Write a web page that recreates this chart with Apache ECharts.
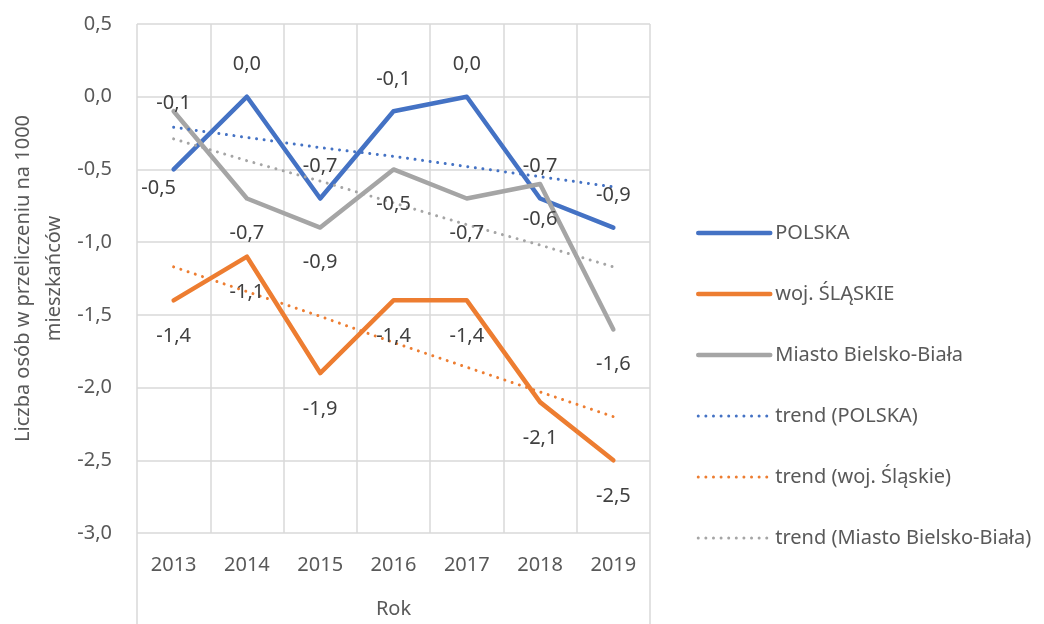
<!DOCTYPE html>
<html>
<head>
<meta charset="utf-8">
<title>Liczba osób w przeliczeniu na 1000 mieszkańców</title>
<style>
html, body { margin: 0; padding: 0; background: #fff; }
#chart { width: 1044px; height: 624px; }
</style>
<script src="https://cdn.jsdelivr.net/npm/echarts@6/dist/echarts.min.js"></script>
</head>
<body>
<div id="chart"></div>
<script>
var lata = ['2013', '2014', '2015', '2016', '2017', '2018', '2019'];
var polska = [-0.5, 0.0, -0.7, -0.1, 0.0, -0.7, -0.9];
var slaskie = [-1.4, -1.1, -1.9, -1.4, -1.4, -2.1, -2.5];
var bielsko = [-0.1, -0.7, -0.9, -0.5, -0.7, -0.6, -1.6];
// linie trendu
var trendPolska = [-0.21, -0.28, -0.35, -0.41, -0.48, -0.55, -0.62];
var trendSlaskie = [-1.17, -1.34, -1.51, -1.69, -1.86, -2.03, -2.20];
var trendBielsko = [-0.29, -0.44, -0.58, -0.73, -0.88, -1.02, -1.17];
// os Y
var yMin = -3.0;
var yMax = 0.5;
var yKrok = 0.5;

var font = 'Noto Sans';
var liniaCiagla = { width: 4.5, type: 'solid', cap: 'round' };
var liniaKropki = { width: 3, type: [0.01, 7.6], cap: 'round' };

function fmt(v) {
	return Number(v).toFixed(1).replace('.', ',');
}

// punkty z etykieta w innym miejscu niz reszta
function punkty(arr, inne) {
	return arr.map(function(v, i) {
		if (inne[i]) {
			return { value: v, label: inne[i] };
		}
		return v;
	});
}

function seria(nazwa, dane, kolor, pozycja, odstep) {
	return {
		name: nazwa,
		type: 'line',
		data: dane,
		symbol: 'circle',
		symbolSize: 2,
		showSymbol: true,
		itemStyle: { color: kolor },
		lineStyle: { color: kolor, width: 4.5, cap: 'round', join: 'round' },
		label: {
			show: true,
			position: pozycja,
			distance: odstep,
			color: '#404040',
			fontSize: 20,
			fontFamily: font,
			formatter: function(p) { return fmt(p.value); }
		},
		emphasis: { disabled: true },
		silent: true
	};
}

function trend(nazwa, dane, kolor) {
	return {
		name: nazwa,
		type: 'line',
		data: dane,
		symbol: 'none',
		itemStyle: { color: kolor },
		lineStyle: { color: kolor, width: 3, type: [0.01, 7.6], cap: 'round' },
		emphasis: { disabled: true },
		silent: true
	};
}

window.onload = function() {
	var myChart = echarts.init(document.getElementById('chart'));
	var option = {
		animation: false,
		backgroundColor: '#fff',
		grid: { left: 137, right: 394, top: 24, bottom: 91 },
		legend: {
			orient: 'vertical',
			left: 696,
			top: 223,
			padding: 0,
			itemWidth: 72,
			itemHeight: 20,
			itemGap: 41,
			itemStyle: { opacity: 0 },
			textStyle: { fontSize: 20, color: '#595959', fontFamily: font },
			selectedMode: false,
			data: [
				{ name: 'POLSKA', lineStyle: liniaCiagla },
				{ name: 'woj. ŚLĄSKIE', lineStyle: liniaCiagla },
				{ name: 'Miasto Bielsko-Biała', lineStyle: liniaCiagla },
				{ name: 'trend (POLSKA)', lineStyle: liniaKropki },
				{ name: 'trend (woj. Śląskie)', lineStyle: liniaKropki },
				{ name: 'trend (Miasto Bielsko-Biała)', lineStyle: liniaKropki }
			]
		},
		xAxis: {
			type: 'category',
			data: lata,
			boundaryGap: true,
			name: 'Rok',
			nameLocation: 'middle',
			nameGap: 66,
			nameTextStyle: { fontSize: 20, color: '#595959', fontFamily: font },
			axisLine: { show: false },
			axisTick: { show: false },
			axisLabel: { margin: 22, fontSize: 20, color: '#595959', fontFamily: font },
			splitLine: { show: true, lineStyle: { color: '#d9d9d9', width: 1.5 } }
		},
		yAxis: {
			type: 'value',
			min: yMin,
			max: yMax,
			interval: yKrok,
			name: 'Liczba osób w przeliczeniu na 1000\nmieszkańców',
			nameLocation: 'middle',
			nameRotate: 90,
			nameGap: 67,
			nameTextStyle: { fontSize: 20, lineHeight: 31, color: '#595959', fontFamily: font, align: 'center' },
			axisLine: { show: false },
			axisTick: { show: false },
			axisLabel: { margin: 25, fontSize: 20, color: '#595959', fontFamily: font, formatter: fmt },
			splitLine: { lineStyle: { color: '#d9d9d9', width: 1.5 } }
		},
		// przedluzenie ramki pod osia X
		graphic: [
			{ type: 'line', shape: { x1: 137, y1: 533, x2: 137, y2: 624 }, style: { stroke: '#d9d9d9', lineWidth: 1.5 } },
			{ type: 'line', shape: { x1: 650, y1: 533, x2: 650, y2: 624 }, style: { stroke: '#d9d9d9', lineWidth: 1.5 } }
		],
		series: [
			seria('POLSKA', punkty(polska, { 0: { position: 'inside', offset: [-15, 19] } }), '#4472C4', 'top', 21),
			seria('woj. ŚLĄSKIE', slaskie, '#ED7D31', 'bottom', 25),
			seria('Miasto Bielsko-Biała', punkty(bielsko, { 0: { position: 'inside', offset: [0, -8] } }), '#A5A5A5', 'bottom', 24),
			trend('trend (POLSKA)', trendPolska, '#4472C4'),
			trend('trend (woj. Śląskie)', trendSlaskie, '#ED7D31'),
			trend('trend (Miasto Bielsko-Biała)', trendBielsko, '#A5A5A5')
		]
	};
	myChart.setOption(option);
};
</script>
</body>
</html>
